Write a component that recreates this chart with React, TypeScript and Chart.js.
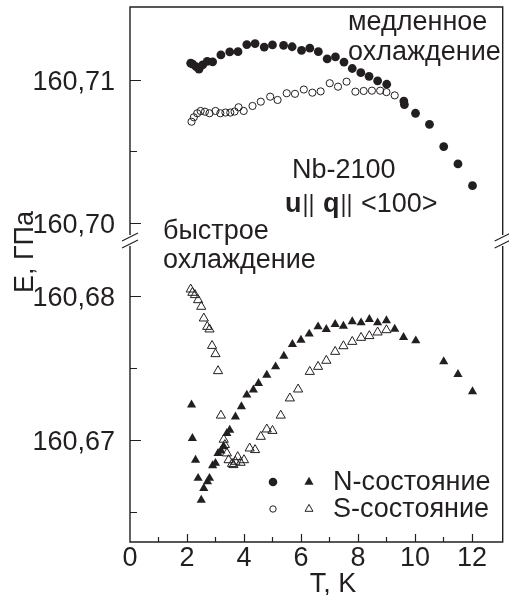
import React, { useEffect, useRef } from 'react';
import { Chart, registerables } from 'chart.js';

Chart.register(...registerables);

// Slow cooling, N-state (filled circles)
const slowNT = [2.13, 2.2, 2.32, 2.42, 2.55, 2.71, 2.9, 3.19, 3.5, 3.79, 4.1, 4.39, 4.71, 5.0, 5.39, 5.69, 6.02, 6.31, 6.61, 6.92, 7.21, 7.51, 7.8, 8.1, 8.39, 8.69, 9.01, 9.61, 9.63, 10.02, 10.51, 11.01, 11.51, 12.02];
const slowNE = [160.71117, 160.7111, 160.71093, 160.71075, 160.71105, 160.7113, 160.71127, 160.71175, 160.71196, 160.71198, 160.71247, 160.71254, 160.7123, 160.71245, 160.71242, 160.71232, 160.71207, 160.71222, 160.71198, 160.71147, 160.71161, 160.71125, 160.7108, 160.71051, 160.71025, 160.70994, 160.7097, 160.70852, 160.70828, 160.70767, 160.7069, 160.70534, 160.70413, 160.70261];

// Slow cooling, S-state (open circles)
const slowST = [2.16, 2.24, 2.36, 2.48, 2.63, 2.79, 3.0, 3.17, 3.35, 3.52, 3.67, 3.81, 3.99, 4.3, 4.59, 4.92, 5.18, 5.5, 5.79, 6.1, 6.4, 6.69, 7.01, 7.3, 7.6, 7.91, 8.2, 8.49, 8.78, 9.0, 9.29];
const slowSE = [160.70708, 160.70739, 160.70767, 160.70783, 160.70778, 160.70767, 160.70783, 160.70767, 160.70772, 160.70772, 160.70779, 160.70809, 160.70783, 160.70818, 160.70848, 160.70883, 160.7086, 160.70907, 160.70903, 160.70933, 160.70911, 160.7092, 160.70977, 160.70953, 160.70988, 160.70918, 160.70923, 160.70925, 160.70925, 160.70915, 160.70892];

// Fast cooling, N-state (filled triangles)
const fastNT = [2.16, 2.19, 2.3, 2.39, 2.5, 2.59, 2.72, 2.79, 2.9, 3.0, 3.09, 3.19, 3.29, 3.4, 3.5, 3.7, 3.91, 4.1, 4.33, 4.51, 4.8, 5.11, 5.4, 5.7, 6.0, 6.29, 6.6, 6.89, 7.2, 7.49, 7.8, 8.11, 8.4, 8.69, 9.0, 9.29, 9.6, 10.03, 11.01, 11.51, 12.02];
const fastNE = [160.67243, 160.67012, 160.66861, 160.66735, 160.66584, 160.66665, 160.66711, 160.66735, 160.66822, 160.66839, 160.66908, 160.66925, 160.66954, 160.67046, 160.67069, 160.67161, 160.67231, 160.67312, 160.67347, 160.67393, 160.6745, 160.67508, 160.67582, 160.67663, 160.67693, 160.67735, 160.67785, 160.67767, 160.67802, 160.6779, 160.6782, 160.67813, 160.67836, 160.67813, 160.67827, 160.67769, 160.67712, 160.67688, 160.67543, 160.67455, 160.67335];

// Fast cooling, S-state (open triangles)
const fastST = [2.13, 2.19, 2.28, 2.39, 2.5, 2.59, 2.71, 2.79, 2.88, 3.0, 3.09, 3.19, 3.29, 3.33, 3.4, 3.46, 3.58, 3.63, 3.7, 3.78, 3.88, 4.0, 4.2, 4.39, 4.59, 4.8, 5.0, 5.29, 5.61, 5.9, 6.31, 6.6, 6.89, 7.2, 7.49, 7.8, 8.11, 8.4, 8.69, 9.0];
const fastSE = [160.68044, 160.68021, 160.68005, 160.6797, 160.67924, 160.67843, 160.67785, 160.67767, 160.67653, 160.67596, 160.67478, 160.6717, 160.67003, 160.66966, 160.66908, 160.66861, 160.66835, 160.66827, 160.6685, 160.66882, 160.66843, 160.66861, 160.66942, 160.66931, 160.67023, 160.67074, 160.67064, 160.6717, 160.67289, 160.67351, 160.67473, 160.67508, 160.6755, 160.67612, 160.67651, 160.67681, 160.67709, 160.67721, 160.67746, 160.67762];

// Axis ticks
const xTicks = [0, 1, 2, 3, 4, 5, 6, 7, 8, 9, 10, 11, 12];
const yTopTicks = [160.7, 160.705, 160.71];
const yBottomTicks = [160.665, 160.67, 160.675, 160.68];

// Texts
const xTitle = 'T, K';
const yTitle = 'E, ГПа';
const slowLabel = ['медленное', 'охлаждение'];
const fastLabel = ['быстрое', 'охлаждение'];
const sampleLabel = 'Nb-2100';
const legendLabels = ['N-состояние', 'S-состояние'];

const INK = '#231f20';
const FONT = '"Liberation Sans", Arial, Helvetica, sans-serif';
const FS = 27;

const pts = (xs: number[], ys: number[]) => xs.map((x, i) => ({ x, y: ys[i] }));
const isMajorY = (v: number) => Math.abs(v * 100 - Math.round(v * 100)) < 1e-6;
const fmtY = (v: number) => (isMajorY(v) ? v.toFixed(2).replace('.', ',') : '');

const decorPlugin = {
  id: 'decor',
  afterDraw(chart: any) {
    const { ctx, chartArea: a, scales } = chart;
    const yT = scales.yTop;
    const yB = scales.yBottom;
    const xs = scales.x;
    const brk = yT.bottom;

    ctx.save();
    ctx.strokeStyle = INK;
    ctx.lineWidth = 1.4;
    ctx.lineCap = 'butt';

    // frame, interrupted at the axis break
    ctx.beginPath();
    ctx.moveTo(a.left, brk - 5);
    ctx.lineTo(a.left, a.top);
    ctx.lineTo(a.right, a.top);
    ctx.lineTo(a.right, brk - 5);
    ctx.moveTo(a.left, brk + 6);
    ctx.lineTo(a.left, a.bottom);
    ctx.lineTo(a.right, a.bottom);
    ctx.lineTo(a.right, brk + 6);
    ctx.stroke();

    // break slashes
    ctx.lineWidth = 1.1;
    ctx.beginPath();
    for (const bx of [a.left, a.right]) {
      for (const dy of [-3, 4]) {
        ctx.moveTo(bx - 8, brk + dy + 4);
        ctx.lineTo(bx + 8, brk + dy - 4);
      }
    }
    ctx.stroke();

    // inward tick marks
    ctx.lineWidth = 1.2;
    ctx.beginPath();
    for (const [sc, list] of [[yT, yTopTicks], [yB, yBottomTicks]] as any) {
      for (const v of list) {
        const py = Math.round(sc.getPixelForValue(v)) + 0.5;
        const len = isMajorY(v) ? 11 : 7;
        ctx.moveTo(a.left, py);
        ctx.lineTo(a.left + len, py);
      }
    }
    for (const v of xTicks) {
      if (v === 0) continue;
      const px = Math.round(xs.getPixelForValue(v)) + 0.5;
      const len = v % 2 === 0 ? 8 : 5;
      ctx.moveTo(px, a.bottom);
      ctx.lineTo(px, a.bottom - len);
    }
    ctx.stroke();

    // texts
    ctx.fillStyle = INK;
    ctx.textBaseline = 'alphabetic';
    ctx.textAlign = 'left';
    ctx.font = `${FS}px ${FONT}`;
    ctx.fillText(slowLabel[0], 348, 30);
    ctx.fillText(slowLabel[1], 348, 60);
    ctx.fillText(fastLabel[0], 163, 239);
    ctx.fillText(fastLabel[1], 163, 268);
    ctx.fillText(sampleLabel, 292, 178);

    // u || q || <100>
    const parts: [string, boolean][] = [['u', true], ['||', false], [' ', false], ['q', true], ['||', false], [' ', false], ['<100>', false]];
    let cx = 285;
    for (const [t, bold] of parts) {
      if (t === '||') {
        ctx.font = `${FS - 4}px ${FONT}`;
        cx += 1;
      } else {
        ctx.font = `${bold ? 'bold ' : ''}${FS}px ${FONT}`;
      }
      ctx.fillText(t, cx, 212);
      cx += ctx.measureText(t).width + (t === '||' ? 1 : 0);
    }

    // x title
    ctx.font = `${FS}px ${FONT}`;
    ctx.textAlign = 'center';
    ctx.fillText(xTitle, 333, 592);

    // y title
    ctx.save();
    ctx.translate(33, 252);
    ctx.rotate(-Math.PI / 2);
    ctx.textAlign = 'center';
    ctx.textBaseline = 'alphabetic';
    ctx.fillText(yTitle, 0, 0);
    ctx.restore();

    // legend
    ctx.textAlign = 'left';
    ctx.textBaseline = 'middle';
    const rows = [482, 509];
    rows.forEach((ry, i) => {
      const filled = i === 0;
      ctx.lineWidth = 1;
      ctx.beginPath();
      ctx.arc(273, ry, filled ? 4.3 : 3.2, 0, Math.PI * 2);
      if (filled) ctx.fill(); else ctx.stroke();
      const r = filled ? 5.3 : 4.6;
      const tx = 309, ty = ry;
      ctx.beginPath();
      for (let k = 0; k < 3; k++) {
        const ang = (k * 2 * Math.PI) / 3;
        const px = tx + Math.sin(ang) * r;
        const py = ty - Math.cos(ang) * r;
        if (k === 0) ctx.moveTo(px, py); else ctx.lineTo(px, py);
      }
      ctx.closePath();
      if (filled) ctx.fill(); else ctx.stroke();
      ctx.fillText(legendLabels[i], 333, ry + 1);
    });

    ctx.restore();
  },
};

const noPadY = (s: any) => {
  s.width = 130;
  s.paddingTop = 0;
  s.paddingBottom = 0;
};

export default function App() {
  const ref = useRef<HTMLCanvasElement | null>(null);

  useEffect(() => {
    if (!ref.current) return;
    const tickFont = { family: FONT, size: FS };
    const chart = new Chart(ref.current, {
      type: 'scatter',
      data: {
        datasets: [
          {
            data: pts(slowNT, slowNE),
            yAxisID: 'yTop',
            pointStyle: 'circle',
            pointRadius: 4.4,
            backgroundColor: INK,
            borderColor: INK,
            borderWidth: 0,
          },
          {
            data: pts(slowST, slowSE),
            yAxisID: 'yTop',
            pointStyle: 'circle',
            pointRadius: 3.6,
            backgroundColor: 'rgba(0,0,0,0)',
            borderColor: INK,
            borderWidth: 1,
          },
          {
            data: pts(fastNT, fastNE),
            yAxisID: 'yBottom',
            pointStyle: 'triangle',
            pointRadius: 5.3,
            backgroundColor: INK,
            borderColor: INK,
            borderWidth: 0,
          },
          {
            data: pts(fastST, fastSE),
            yAxisID: 'yBottom',
            pointStyle: 'triangle',
            pointRadius: 5.3,
            backgroundColor: 'rgba(0,0,0,0)',
            borderColor: INK,
            borderWidth: 1,
          },
        ] as any,
      },
      options: {
        responsive: false,
        animation: false,
        devicePixelRatio: 1,
        layout: { padding: { left: 0, top: 7, right: 3, bottom: 0 } },
        plugins: { legend: { display: false }, tooltip: { enabled: false } },
        elements: { point: { hoverRadius: 4 } },
        datasets: { scatter: { clip: false } } as any,
        scales: {
          x: {
            type: 'linear',
            position: 'bottom',
            min: 0,
            max: 13.08,
            grid: { display: false },
            border: { display: false },
            afterBuildTicks: (s: any) => {
              s.ticks = xTicks.filter((v) => v % 2 === 0).map((v) => ({ value: v }));
            },
            afterFit: (s: any) => {
              s.height = 53;
              s.paddingLeft = 0;
              s.paddingRight = 0;
            },
            ticks: {
              autoSkip: false,
              maxRotation: 0,
              padding: -8,
              color: INK,
              font: tickFont,
              callback: (v: any) => String(v),
            },
          },
          yTop: {
            type: 'linear',
            position: 'left',
            stack: 'e',
            stackWeight: 233,
            weight: 2,
            min: 160.69881,
            max: 160.7151,
            grid: { display: false },
            border: { display: false },
            afterBuildTicks: (s: any) => {
              s.ticks = yTopTicks.map((v) => ({ value: v }));
            },
            afterFit: noPadY,
            ticks: {
              autoSkip: false,
              padding: 7,
              labelOffset: 3,
              color: INK,
              font: tickFont,
              callback: (v: any) => fmtY(Number(v)),
            },
          },
          yBottom: {
            type: 'linear',
            position: 'left',
            stack: 'e',
            stackWeight: 302,
            weight: 1,
            min: 160.66293,
            max: 160.68386,
            grid: { display: false },
            border: { display: false },
            afterBuildTicks: (s: any) => {
              s.ticks = yBottomTicks.map((v) => ({ value: v }));
            },
            afterFit: noPadY,
            ticks: {
              autoSkip: false,
              padding: 7,
              labelOffset: 3,
              color: INK,
              font: tickFont,
              callback: (v: any) => fmtY(Number(v)),
            },
          },
        } as any,
      },
      plugins: [decorPlugin],
    });
    return () => chart.destroy();
  }, []);

  return (
    <div style={{ position: 'fixed', left: 0, top: 0, width: 509, height: 595, background: '#fff' }}>
      <canvas ref={ref} width={509} height={595} style={{ display: 'block' }} />
    </div>
  );
}
